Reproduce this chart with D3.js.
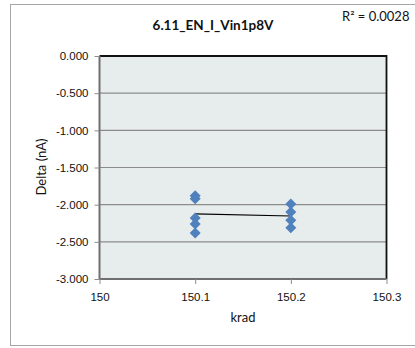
<!DOCTYPE html>
<html lang="en">

<head>
  <meta charset="UTF-8">
  <title>6.11_EN_I_Vin1p8V</title>
  <style>
    body {
      margin: 0;
      background: #fff;
    }

    svg {
      display: block;
      font-family: Lato, "Open Sans", sans-serif;
    }
  </style>
</head>

<body>

  <script src="https://d3js.org/d3.v7.min.js"></script>

  <script>
    // readings at each dose
    const kradA = [150.1, 150.1, 150.1, 150.1, 150.1];
    const deltaA = [-1.88, -1.92, -2.18, -2.26, -2.38];
    const kradB = [150.2, 150.2, 150.2, 150.2];
    const deltaB = [-1.99, -2.10, -2.21, -2.31];

    const xTicks = [150, 150.1, 150.2, 150.3];
    const yTicks = [0, -0.5, -1, -1.5, -2, -2.5, -3];
    const titleText = "6.11_EN_I_Vin1p8V";
    const r2Text = "R² = 0.0028";

    const W = 415, H = 348;
    const pL = 99.5, pR = 386.5, pT = 56, pB = 279;

    // plain hyphen for the minus sign, as in the original
    const fmt3 = d3.formatLocale({ decimal: ".", thousands: ",", grouping: [3], currency: ["", ""], minus: "-" }).format(".3f");

    const svg = d3.select("body")
      .append("svg")
      .attr("width", W)
      .attr("height", H);

    // chart area border
    svg.append("rect")
      .attr("x", 10.5).attr("y", 4.5)
      .attr("width", 420).attr("height", 341)
      .attr("fill", "#fff")
      .attr("stroke", "#a6a6a6");

    const x = d3.scaleLinear().domain([150, 150.3]).range([pL, pR]);
    const y = d3.scaleLinear().domain([-3, 0]).range([pB, pT]);

    // plot area
    svg.append("rect")
      .attr("x", pL).attr("y", pT)
      .attr("width", pR - pL).attr("height", pB - pT)
      .attr("fill", "#e7ecec");

    svg.append("g")
      .selectAll("line")
      .data(yTicks.filter(d => d !== 0 && d !== -3))
      .join("line")
      .attr("x1", pL).attr("x2", pR)
      .attr("y1", d => y(d)).attr("y2", d => y(d))
      .attr("stroke", "#8c8c8c")
      .attr("stroke-width", 1.2);

    // top / right border of plot
    svg.append("path")
      .attr("d", `M${pL},${pT}H${pR}V${pB}`)
      .attr("fill", "none")
      .attr("stroke", "#111")
      .attr("stroke-width", 1.8);

    const yAxis = svg.append("g")
      .attr("transform", `translate(${pL},0)`)
      .call(d3.axisLeft(y).tickValues(yTicks).tickFormat(fmt3).tickSize(5).tickPadding(6));

    const xAxis = svg.append("g")
      .attr("transform", `translate(0,${pB})`)
      .call(d3.axisBottom(x).tickValues(xTicks).tickFormat(d => String(+d.toFixed(1))).tickSize(5).tickPadding(9));

    for (const ax of [yAxis, xAxis]) {
      ax.select(".domain").attr("stroke", "#6f6f6f").attr("stroke-width", 2);
      ax.selectAll(".tick line").attr("stroke", "#8c8c8c");
      ax.selectAll("text").attr("fill", "#111").attr("font-size", 11.5);
    }
    yAxis.select(".domain").attr("d", `M0,${pT}V${pB}`);
    xAxis.select(".domain").attr("d", `M${pL},0H${pR}`);

    // least-squares trend line through all readings
    const xs = kradA.concat(kradB), ys = deltaA.concat(deltaB);
    const mx = d3.mean(xs), my = d3.mean(ys);
    const slope = d3.sum(xs, (v, i) => (v - mx) * (ys[i] - my)) / d3.sum(xs, v => (v - mx) ** 2);
    const fit = v => my + slope * (v - mx);
    const x0 = d3.min(xs), x1 = d3.max(xs);

    svg.append("line")
      .attr("x1", x(x0)).attr("y1", y(fit(x0)))
      .attr("x2", x(x1)).attr("y2", y(fit(x1)))
      .attr("stroke", "#000")
      .attr("stroke-width", 1.2);

    const pts = xs.map((v, i) => ({ k: v, d: ys[i] }));
    svg.append("g")
      .selectAll("path")
      .data(pts)
      .join("path")
      .attr("transform", d => `translate(${x(d.k)},${y(d.d)})`)
      .attr("d", "M0,-5.5L5.5,0L0,5.5L-5.5,0Z")
      .attr("fill", "#4f81bd");

    svg.append("text")
      .attr("x", 213).attr("y", 30)
      .attr("text-anchor", "middle")
      .attr("font-size", 13.5)
      .attr("font-weight", "bold")
      .attr("fill", "#111")
      .text(titleText);

    svg.append("text")
      .attr("x", 342).attr("y", 21)
      .attr("font-size", 13)
      .attr("fill", "#111")
      .text(r2Text);

    svg.append("text")
      .attr("x", 243).attr("y", 322)
      .attr("text-anchor", "middle")
      .attr("font-size", 13)
      .attr("fill", "#111")
      .text("krad");

    svg.append("text")
      .attr("transform", `translate(46,167) rotate(-90)`)
      .attr("text-anchor", "middle")
      .attr("font-size", 13)
      .attr("fill", "#111")
      .text("Delta (nA)");
  </script>
</body>

</html>
